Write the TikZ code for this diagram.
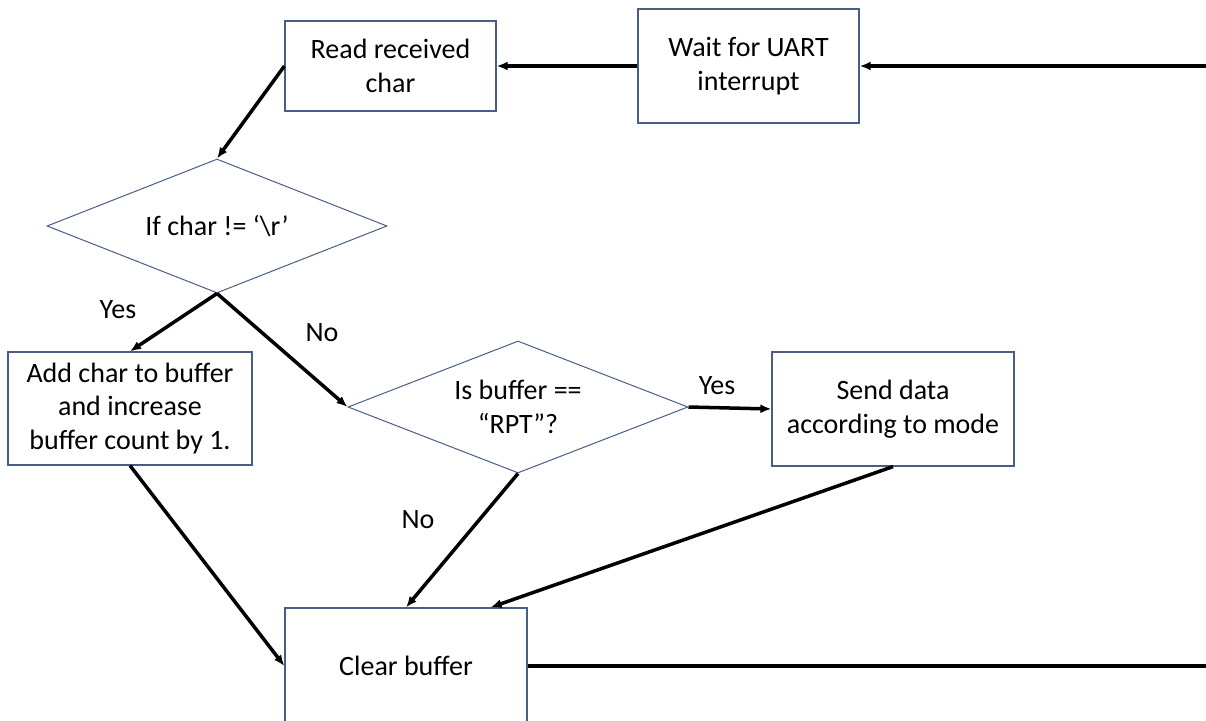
\documentclass[tikz,border=0pt]{standalone}
\usepackage{fontspec}
\setmainfont{Carlito}
\usetikzlibrary{shapes.geometric,arrows.meta}
\definecolor{boxline}{RGB}{72,94,135}
\tikzset{
  box/.style={draw=boxline, line width=1.2pt, rectangle, align=center, inner sep=0pt,
    font=\fontsize{28}{33.6}\selectfont},
  dia/.style={draw=boxline, line width=1pt, diamond, aspect=2.54, align=center, inner sep=0pt,
    font=\fontsize{28}{33.6}\selectfont},
  lbl/.style={font=\fontsize{28}{33.6}\selectfont, inner sep=0pt},
  conn/.style={line width=3.5pt, -{Latex[length=11pt,width=9pt]}},
  plain/.style={line width=3.5pt}
}
\begin{document}
\begin{tikzpicture}[x={(1pt,0)}, y={(0,-1pt)}]
\useasboundingbox (0,0) rectangle (1206,720);
\clip (0,0) rectangle (1206,720);
\node[box, minimum width=211pt, minimum height=90pt] (read) at (390.5,66) {Read received\\char};
\node[box, minimum width=221pt, minimum height=114pt] (wait) at (748.5,66) {Wait for UART\\interrupt};
\node[dia, minimum width=340pt, minimum height=134pt] (d1) at (217,226) {If char != ‘\textbackslash r’};
\node[box, minimum width=244pt, minimum height=113pt] (add) at (130,408.5) {Add char to buffer\\and increase\\buffer count by 1.};
\node[dia, minimum width=340pt, minimum height=132pt] (d2) at (518,407) {Is buffer ==\\“RPT”?};
\node[box, minimum width=242pt, minimum height=114pt] (send) at (893,409) {Send data\\according to mode};
\node[box, minimum width=242pt, minimum height=116pt] (clear) at (406,666) {Clear buffer};
\coordinate (rin) at (1206,66);
\coordinate (rout) at (1206,666);
\node[lbl] (yes1) at (118,310) {Yes};
\node[lbl] (no1) at (322,333) {No};
\node[lbl] (yes2) at (717,386) {Yes};
\node[lbl] (no2) at (418,520) {No};
\draw[conn] (rin) -- (wait.east);
\draw[conn] (wait.west) -- (read.east);
\draw[conn] (read.west) -- (d1.north);
\draw[conn] (d1.south) -- (add.north);
\draw[conn] (d1.south) -- (d2.west);
\draw[conn] (d2.east) -- (send.west);
\draw[conn] (d2.south) -- (clear.north);
\draw[conn] (send.south) -- ([xshift=-37pt]clear.north east);
\draw[conn] (add.south) -- (clear.west);
\draw[plain] (clear.east) -- (rout);
\end{tikzpicture}
\end{document}
